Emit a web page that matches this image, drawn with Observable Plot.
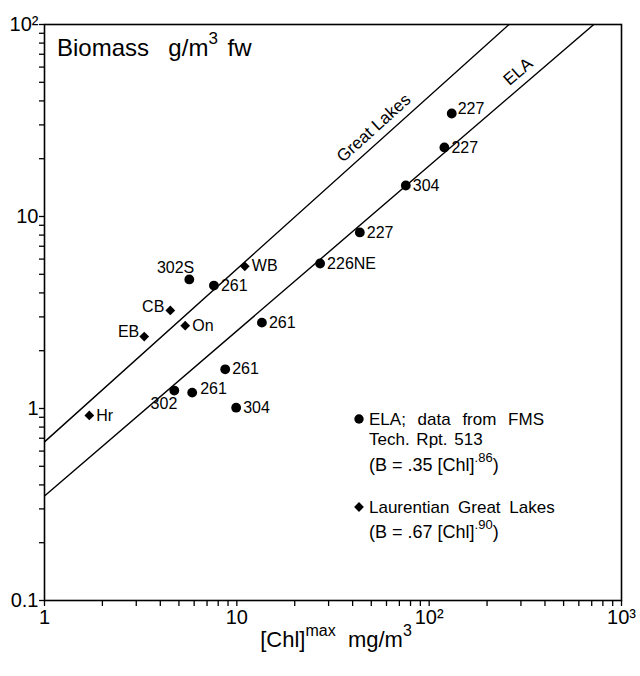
<!DOCTYPE html>
<html><head><meta charset="utf-8">
<script src="https://cdn.jsdelivr.net/npm/d3@7"></script>
<script src="https://cdn.jsdelivr.net/npm/@observablehq/plot@0.6"></script>
<style>body{margin:0;background:#fff}</style>
</head><body><div id="chart"></div>
<script>
// ---- data ----
const elaLabels  = ["227","227","304","227","226NE","261","302S","261","261","302","261","304"];
const elaChl     = [131, 120, 75.6, 43.6, 27.1, 7.6, 5.66, 13.5, 8.7, 4.73, 5.86, 9.92];
const elaBiomass = [34.4, 22.9, 14.5, 8.26, 5.69, 4.37, 4.70, 2.80, 1.60, 1.24, 1.21, 1.01];
const glLabels   = ["WB","CB","On","EB","Hr"];
const glChl      = [11.0, 4.51, 5.39, 3.30, 1.71];
const glBiomass  = [5.50, 3.24, 2.70, 2.37, 0.92];
const fitNames   = ["Great Lakes","ELA"];
const fitCoef    = [0.67, 0.35];
const fitExp     = [0.90, 0.86];
const xTicks = [1, 10, 100, 1000];
const xTickLabels = ["1","10","10²","10³"];
const yTicks = [0.1, 1, 10, 100];
const yTickLabels = ["0.1","1","10","10²"];

// ---- build ----
const font = "'Liberation Sans', Arial, Helvetica, sans-serif";
const ela = elaLabels.map((label,i)=>({label, x: elaChl[i], y: elaBiomass[i], i}));
const gl  = glLabels.map((label,i)=>({label, x: glChl[i], y: glBiomass[i], i}));
const xLo = xTicks[0], xHi = xTicks[xTicks.length-1];
const fits = fitNames.flatMap((name,k)=>[xLo, xHi].map(x=>({name, x, y: fitCoef[k]*Math.pow(x, fitExp[k])})));

const minorTicks = (lo, hi) => {
  const out = [];
  for (let e = Math.round(Math.log10(lo)); e < Math.round(Math.log10(hi)); e++)
    for (let m = 1; m < 10; m++) out.push(+(m*Math.pow(10,e)).toPrecision(6));
  out.push(hi);
  return out;
};
const xAll = minorTicks(xLo, xHi);
const yAll = minorTicks(yTicks[0], yTicks[yTicks.length-1]);
const fmt = (ticks, labels) => d => { const i = ticks.findIndex(t => Math.abs(t-d)/t < 1e-6); return i >= 0 ? labels[i] : ""; };

// label placement (style)
const elaPlace = {0:["start",6,-5], 6:["end",5,-12], 9:["end",3,13], 10:["start",8,-4]};
const glPlace  = {1:["end",-6,-4], 3:["end",-5,-5]};
const textGroups = (data, place) => {
  const groups = new Map();
  data.forEach(d => {
    const p = place[d.i] || ["start",7,0];
    const key = p.join("|");
    if (!groups.has(key)) groups.set(key, {p, rows: []});
    groups.get(key).rows.push(d);
  });
  return [...groups.values()].map(({p, rows}) => Plot.text(rows, {x:"x", y:"y", text:"label", textAnchor:p[0], dx:p[1], dy:p[2], fontSize:16, fill:"black"}));
};

const fitLabelX = [57.3, 323];
const fitLabelRot = [-42, -41];
const fitLabels = fitNames.map((name,k)=>({name, x: fitLabelX[k], y: fitCoef[k]*Math.pow(fitLabelX[k], fitExp[k]), rot: fitLabelRot[k]}));

const svg = Plot.plot({
  width: 640, height: 676,
  marginLeft: 44, marginRight: 19, marginTop: 24, marginBottom: 76,
  style: {fontFamily: font, fontSize: "20px", color: "black", background: "white"},
  x: {type: "log", domain: [xLo, xHi]},
  y: {type: "log", domain: [yTicks[0], yTicks[yTicks.length-1]]},
  marks: [
    Plot.line(fits, {x:"x", y:"y", z:"name", stroke:"black", strokeWidth:1.4, clip:true}),
    Plot.frame({stroke:"black", strokeWidth:1.6}),
    Plot.axisX({ticks: xAll, tickSize: 6, tickPadding: 3, tickFormat: fmt(xTicks, xTickLabels), fontSize: 20, label: null, strokeWidth: 1.3}),
    Plot.axisY({ticks: yAll, tickSize: 5, tickPadding: 1, tickFormat: fmt(yTicks, yTickLabels), fontSize: 20, label: null, strokeWidth: 1.3}),
    Plot.dot(ela, {x:"x", y:"y", r:4.9, fill:"black", symbol:"circle"}),
    Plot.dot(gl, {x:"x", y:"y", r:4.4, fill:"black", symbol:"diamond2"}),
    ...textGroups(ela, elaPlace),
    ...textGroups(gl, glPlace),
    ...fitLabels.map(d => Plot.text([d], {x:"x", y:"y", text:"name", rotate: d.rot, dx:-9, dy:-10, fontSize:17, textAnchor:"middle", fill:"black"}))
  ]
});
document.getElementById("chart").appendChild(svg);

// rich text with superscripts
const g = d3.select(svg).append("g").attr("font-family", font).attr("fill", "black");
function rich(x, y, parts, size, anchor="start", extra={}) {
  const t = g.append("text").attr("x", x).attr("y", y).attr("font-size", size).attr("text-anchor", anchor);
  Object.entries(extra).forEach(([k,v]) => t.attr(k, v));
  let raised = 0;
  parts.forEach(p => {
    const sup = typeof p === "object";
    const s = t.append("tspan").text(sup ? p.sup : p);
    const target = sup ? -Math.round(size*0.5) : 0;
    if (target !== raised) { s.attr("dy", target - raised); raised = target; }
    if (sup) s.attr("font-size", Math.round(size*0.72));
  });
  return t;
}
rich(57, 56, ["Biomass  g/m", {sup:"3"}, " fw"], 24, "start", {"word-spacing": 3});
rich(336, 647, ["[Chl]", {sup:"max"}, "  mg/m", {sup:"3"}], 22, "middle");
// legend
g.append("circle").attr("cx", 359).attr("cy", 419).attr("r", 4.7);
rich(369, 425, ["ELA; data from FMS"], 17, "start", {"word-spacing": 7});
rich(369, 445, ["Tech. Rpt. 513"], 17, "start", {"word-spacing": 2});
rich(369, 471, ["(B = .35 [Chl]", {sup:".86"}, ")"], 18, "start");
g.append("path").attr("d", d3.symbol(d3.symbolDiamond2, Math.PI*4.4*4.4)()).attr("transform", "translate(359,507)");
rich(369, 513, ["Laurentian Great Lakes"], 17, "start", {"word-spacing": 4});
rich(369, 538, ["(B = .67 [Chl]", {sup:".90"}, ")"], 18, "start");
</script>
</body></html>
